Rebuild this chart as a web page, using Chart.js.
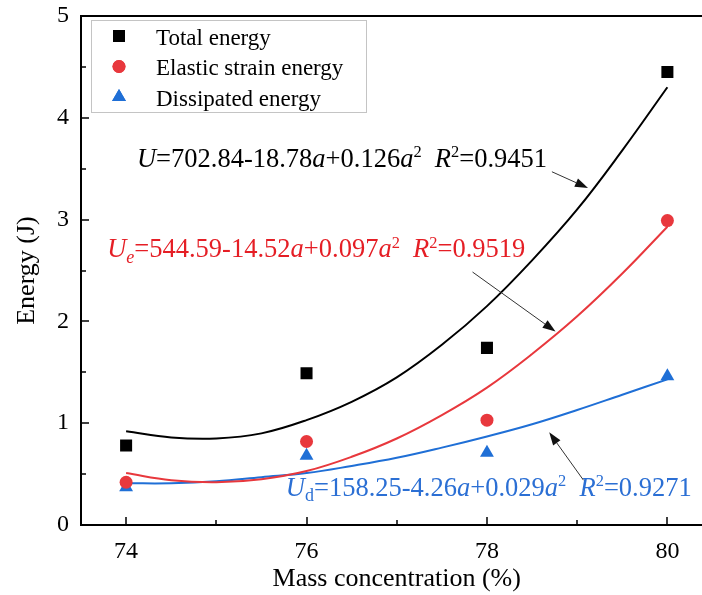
<!DOCTYPE html>
<html><head><meta charset="utf-8">
<script src="https://cdn.jsdelivr.net/npm/chart.js@4.4.1/dist/chart.umd.min.js"></script>
<style>
html,body{margin:0;padding:0;overflow:hidden;background:#fff;width:702px;height:595px}
#wrap{position:relative;width:721px;height:595px}
</style></head>
<body><div id="wrap"><canvas id="c" width="721" height="595"></canvas></div>
<script>
// ---- data ----
const concentration = [74, 76, 78, 80];
const totalEnergy = [0.78, 1.49, 1.74, 4.45];
const elasticEnergy = [0.42, 0.82, 1.03, 2.99];
const dissipatedEnergy = [0.37, 0.68, 0.71, 1.46];

// fitted curves
const fitX = [74, 74.5, 75, 75.5, 76, 76.5, 77, 77.5, 78, 78.5, 79, 79.5, 80];
const totalFit = [0.92, 0.86, 0.85, 0.90, 1.03, 1.21, 1.45, 1.77, 2.15, 2.60, 3.10, 3.68, 4.30];
const elasticFit = [0.51, 0.44, 0.42, 0.45, 0.53, 0.67, 0.85, 1.08, 1.35, 1.68, 2.05, 2.47, 2.93];
const dissipatedFit = [0.41, 0.41, 0.43, 0.47, 0.51, 0.58, 0.66, 0.76, 0.87, 0.99, 1.13, 1.28, 1.43];

const xTicks = [74, 76, 78, 80];
const xMinorTicks = [75, 77, 79];
const yTicks = [0, 1, 2, 3, 4, 5];
const yMinorTicks = [0.5, 1.5, 2.5, 3.5, 4.5];
const seriesNames = ['Total energy', 'Elastic strain energy', 'Dissipated energy'];
const xTitle = 'Mass concentration (%)';
const yTitle = 'Energy (J)';

const BLACK = '#000000', RED = '#e8383d', BLUE = '#1f6fd6';
const REDTXT = '#e51e25', BLUETXT = '#2b6fd4';
const FONT = '"Liberation Serif", "Times New Roman", serif';

// equation annotations (anchor + arrow in data units)
const equations = [
  {color: BLACK, at: [74.12, 3.52],
   runs: [['U','i'],['=702.84-18.78'],['a','i'],['+0.126'],['a','i'],['2','sup'],['  '],['R','i'],['2','sup'],['=0.9451']],
   arrow: [78.72, 3.47, 79.12, 3.31]},
  {color: REDTXT, at: [73.79, 2.63],
   runs: [['U','i'],['e','isub'],['=544.59-14.52'],['a','i'],['+0.097'],['a','i'],['2','sup'],['  '],['R','i'],['2','sup'],['=0.9519']],
   arrow: [77.84, 2.485, 78.76, 1.90]},
  {color: BLUETXT, at: [75.77, 0.285],
   runs: [['U','i'],['d','sub'],['=158.25-4.26'],['a','i'],['+0.029'],['a','i'],['2','sup'],['  '],['R','i'],['2','sup'],['=0.9271']],
   arrow: [79.07, 0.44, 78.69, 0.91]}
];

const pts = (xs, ys) => xs.map((x, i) => ({x, y: ys[i]}));

function drawRuns(ctx, x, y, runs, size, color) {
  ctx.save();
  ctx.fillStyle = color; ctx.textAlign = 'left'; ctx.textBaseline = 'alphabetic';
  for (const [t, st = ''] of runs) {
    let fs = size, dy = 0;
    const italic = (st === 'i' || st === 'isub');
    if (st === 'sup') { fs = size * 0.62; dy = -size * 0.36; }
    if (st === 'sub' || st === 'isub') { fs = size * 0.68; dy = size * 0.2; }
    ctx.font = (italic ? 'italic ' : '') + fs + 'px ' + FONT;
    ctx.fillText(t, x, y + dy);
    x += ctx.measureText(t).width;
  }
  ctx.restore();
}

function drawArrow(ctx, x1, y1, x2, y2) {
  ctx.save();
  ctx.strokeStyle = '#333'; ctx.fillStyle = '#111'; ctx.lineWidth = 1;
  const ang = Math.atan2(y2 - y1, x2 - x1), L = 13, W = 4.5;
  const bx = x2 - L * Math.cos(ang), by = y2 - L * Math.sin(ang);
  ctx.beginPath(); ctx.moveTo(x1, y1); ctx.lineTo(bx, by); ctx.stroke();
  ctx.beginPath();
  ctx.moveTo(x2, y2);
  ctx.lineTo(bx + W * Math.sin(ang), by - W * Math.cos(ang));
  ctx.lineTo(bx - W * Math.sin(ang), by + W * Math.cos(ang));
  ctx.closePath(); ctx.fill();
  ctx.restore();
}

const framePlugin = {
  id: 'frame',
  beforeDatasetsDraw(chart) {
    const {ctx, chartArea: a, scales: {x, y}} = chart;
    ctx.save();
    ctx.strokeStyle = '#000'; ctx.lineWidth = 2;
    ctx.beginPath();
    ctx.rect(a.left, a.top, a.right - a.left, a.bottom - a.top);
    ctx.stroke();
    ctx.lineWidth = 1.5;
    ctx.beginPath();
    for (const v of yTicks) { const p = Math.round(y.getPixelForValue(v)); ctx.moveTo(a.left, p); ctx.lineTo(a.left + 8, p); }
    for (const v of yMinorTicks) { const p = Math.round(y.getPixelForValue(v)); ctx.moveTo(a.left, p); ctx.lineTo(a.left + 5, p); }
    for (const v of xTicks) { const p = Math.round(x.getPixelForValue(v)); ctx.moveTo(p, a.bottom); ctx.lineTo(p, a.bottom - 8); }
    for (const v of xMinorTicks) { const p = Math.round(x.getPixelForValue(v)); ctx.moveTo(p, a.bottom); ctx.lineTo(p, a.bottom - 5); }
    ctx.stroke();
    ctx.restore();
  },
  afterDraw(chart) {
    const {ctx, chartArea: a, scales: {x, y}} = chart;
    // legend
    const bx = a.left + 10, by = a.top + 4, bw = 275, bh = 92;
    ctx.save();
    ctx.strokeStyle = '#c4c4c4'; ctx.lineWidth = 1;
    ctx.strokeRect(bx + 0.5, by + 0.5, bw, bh);
    const styles = [['rect', 8.5, BLACK], ['circle', 6.5, RED], ['triangle', 8, BLUE]];
    seriesNames.forEach((name, i) => {
      const cy = by + 16 + i * 30.5;
      const [ps, r, col] = styles[i];
      ctx.fillStyle = col; ctx.strokeStyle = col;
      Chart.helpers.drawPoint(ctx, {pointStyle: ps, radius: r, borderWidth: 0, rotation: 0}, bx + 28, cy);
      ctx.fill();
      ctx.fillStyle = '#000';
      ctx.font = '23px ' + FONT;
      ctx.textBaseline = 'alphabetic'; ctx.textAlign = 'left';
      ctx.fillText(name, bx + 65, cy + 8.5);
    });
    ctx.restore();
    // equations + arrows
    for (const e of equations) {
      drawRuns(ctx, x.getPixelForValue(e.at[0]), y.getPixelForValue(e.at[1]), e.runs, 26.5, e.color);
      const [ax1, ay1, ax2, ay2] = e.arrow;
      drawArrow(ctx, x.getPixelForValue(ax1), y.getPixelForValue(ay1), x.getPixelForValue(ax2), y.getPixelForValue(ay2));
    }
  }
};

new Chart(document.getElementById('c'), {
  type: 'scatter',
  data: {
    datasets: [
      {label: seriesNames[0], data: pts(concentration, totalEnergy), pointStyle: 'rect', pointRadius: 8.5, backgroundColor: BLACK, borderWidth: 0, showLine: false},
      {label: seriesNames[1], data: pts(concentration, elasticEnergy), pointStyle: 'circle', pointRadius: 6.5, backgroundColor: RED, borderWidth: 0, showLine: false},
      {label: seriesNames[2], data: pts(concentration, dissipatedEnergy), pointStyle: 'triangle', pointRadius: 8, backgroundColor: BLUE, borderWidth: 0, showLine: false},
      {type: 'line', label: 'fitT', data: pts(fitX, totalFit), borderColor: BLACK, borderWidth: 2, pointRadius: 0, tension: 0.4, fill: false},
      {type: 'line', label: 'fitE', data: pts(fitX, elasticFit), borderColor: RED, borderWidth: 2, pointRadius: 0, tension: 0.4, fill: false},
      {type: 'line', label: 'fitD', data: pts(fitX, dissipatedFit), borderColor: BLUE, borderWidth: 2, pointRadius: 0, tension: 0.4, fill: false}
    ]
  },
  options: {
    responsive: false, animation: false, devicePixelRatio: 1,
    layout: {padding: {top: 16, right: 2, left: 0, bottom: 0}},
    plugins: {legend: {display: false}, tooltip: {enabled: false}},
    scales: {
      x: {
        type: 'linear', min: 73.5, max: 80.5,
        afterBuildTicks: s => { s.ticks = xTicks.map(v => ({value: v})); },
        afterFit: s => { s.height = 70; s.paddingLeft = 0; s.paddingRight = 0; },
        grid: {display: false, drawTicks: false}, border: {display: false},
        ticks: {color: '#000', font: {family: FONT, size: 24}, padding: 12, maxRotation: 0},
        title: {display: true, text: xTitle, color: '#000', font: {family: FONT, size: 26}, padding: {top: 0, bottom: 0}}
      },
      y: {
        type: 'linear', min: 0, max: 5,
        afterBuildTicks: s => { s.ticks = yTicks.map(v => ({value: v})); },
        afterFit: s => { s.width = 81; s.paddingTop = 0; s.paddingBottom = 0; },
        grid: {display: false, drawTicks: false}, border: {display: false},
        ticks: {color: '#000', font: {family: FONT, size: 24}, padding: 12},
        title: {display: true, text: yTitle, color: '#000', font: {family: FONT, size: 26}, padding: {top: 12, bottom: 0}}
      }
    }
  },
  plugins: [framePlugin]
});
</script>
</body></html>
